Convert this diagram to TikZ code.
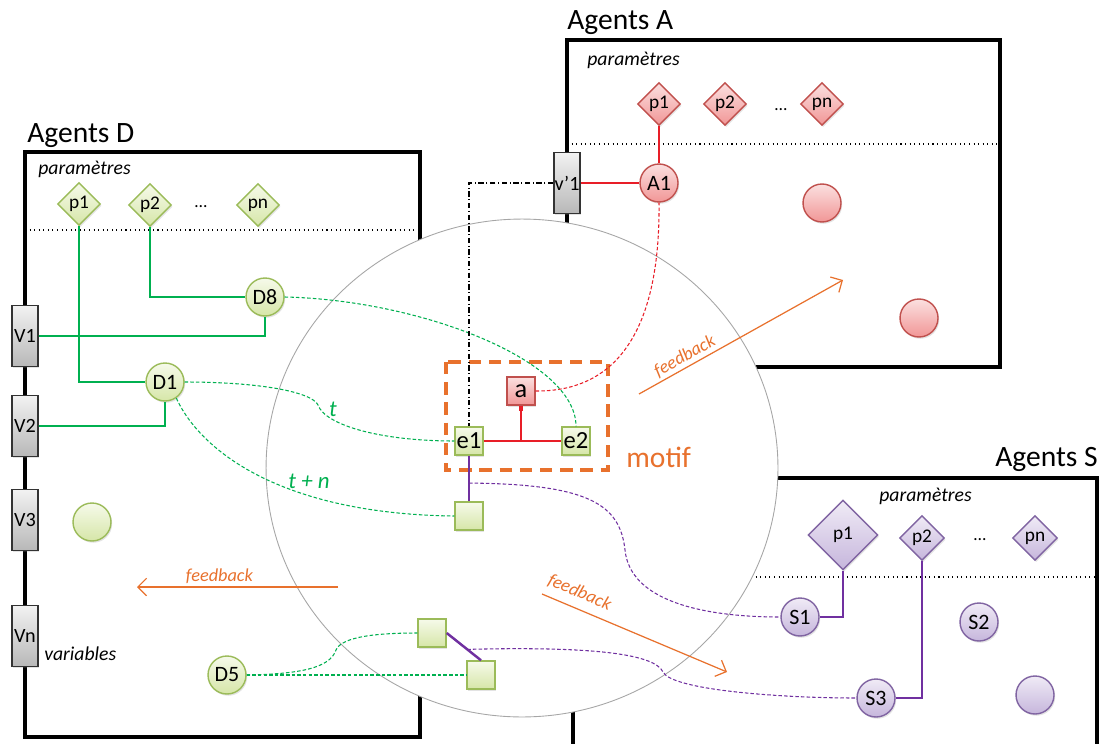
\documentclass[tikz,border=0pt]{standalone}
\usepackage{fontspec}
\setmainfont{Carlito}
\usepackage{tikz}
\usetikzlibrary{shapes.geometric,arrows.meta,calc,shadows}

\definecolor{gtop}{RGB}{246,250,234}
\definecolor{gbot}{RGB}{214,230,168}
\definecolor{gborder}{RGB}{155,187,89}
\definecolor{gline}{RGB}{0,176,80}
\definecolor{rtop}{RGB}{251,224,224}
\definecolor{rbot}{RGB}{241,150,150}
\definecolor{rborder}{RGB}{192,80,77}
\definecolor{rline}{RGB}{232,30,40}
\definecolor{ptop}{RGB}{240,235,246}
\definecolor{pbot}{RGB}{198,182,220}
\definecolor{pborder}{RGB}{128,100,162}
\definecolor{pline}{RGB}{112,48,160}
\definecolor{vtop}{RGB}{242,242,242}
\definecolor{vbot}{RGB}{184,184,184}
\definecolor{orng}{RGB}{232,113,45}

\begin{document}
\begin{tikzpicture}[x=0.02cm,y=-0.02cm,
    frame/.style={line width=1.9pt},
    sep/.style={dotted,line width=0.6pt},
    ttl/.style={font=\fontsize{16.8}{20}\selectfont,inner sep=0pt},
    par/.style={font=\fontsize{11.2}{13}\selectfont\itshape,inner sep=0pt},
    shad/.style={drop shadow={opacity=0.22,shadow xshift=0.7pt,shadow yshift=-1pt}},
    dia/.style={diamond,inner sep=0pt,minimum size=0.86cm,shad,font=\fontsize{11}{13}\selectfont},
    rnd/.style={circle,inner sep=0pt,minimum size=0.76cm,shad,font=\fontsize{12.5}{14}\selectfont},
    sqr/.style={rectangle,inner sep=0pt,minimum size=0.56cm,shad,font=\fontsize{14}{16}\selectfont},
    gfill/.style={draw=gborder,line width=0.8pt,top color=gtop,bottom color=gbot},
    rfill/.style={draw=rborder,line width=0.8pt,top color=rtop,bottom color=rbot},
    pfill/.style={draw=pborder,line width=0.8pt,top color=ptop,bottom color=pbot},
    varbox/.style={rectangle,draw=black!80,line width=0.8pt,top color=vtop,bottom color=vbot,
        minimum width=0.52cm,minimum height=1.22cm,inner sep=0pt,shad,font=\fontsize{11.5}{13}\selectfont},
    dots/.style={font=\fontsize{10}{12}\selectfont},
    glink/.style={gline,line width=0.7pt},
    gdash/.style={gline,line width=0.6pt,dash pattern=on 2pt off 1.2pt},
    plink/.style={pline,line width=0.7pt},
    pdash/.style={pline,line width=0.6pt,dash pattern=on 2pt off 1.2pt},
    rdash/.style={rline,line width=0.6pt,dash pattern=on 2pt off 1.2pt},
    glbl/.style={gline,font=\fontsize{13}{15}\selectfont\itshape},
    fb/.style={orng,line width=0.7pt,-{Straight Barb[length=5pt,width=10pt]}},
    fbl/.style={orng,font=\fontsize{10.4}{12}\selectfont\itshape,inner sep=1.5pt}
]
\useasboundingbox (0,0) rectangle (1104,743);

\draw[frame] (25,152) rectangle (420,737);
\draw[frame] (567,40) rectangle (1000,367);
\draw[frame] (573,770) -- (573,478) -- (1097,478) -- (1097,770);
\draw[sep] (25,230) -- (420,230);
\draw[sep] (567,144) -- (1000,144);
\draw[sep] (573,577) -- (1097,577);

\node[ttl,anchor=base west] at (27,143) {Agents D};
\node[ttl,anchor=base west] at (567,30) {Agents A};
\node[ttl,anchor=base east] at (1098,466) {Agents S};
\node[par,anchor=base west] at (38,174) {paramètres};
\node[par,anchor=base west] at (587,66) {paramètres};
\node[par,anchor=base west] at (879,501) {paramètres};
\node[par,anchor=base west] at (44,660) {variables};

\draw[gray!70,line width=0.5pt,fill=white] (522,468) ellipse [x radius=5.12cm,y radius=4.98cm];

\node[dia,gfill] (pD1) at (79,204) {p1};
\node[dia,gfill] (pD2) at (150,205) {p2};
\node[dots] at (201,207) {…};
\node[dia,gfill] (pDn) at (258,205) {pn};
\node[varbox] (Dv1) at (25,336) {V1};
\node[varbox] (Dv2) at (25,426) {V2};
\node[varbox] (Dv3) at (25,520) {V3};
\node[varbox] (Dvn) at (25,636) {Vn};
\node[rnd,gfill] (D8) at (265,297) {D8};
\node[rnd,gfill] (D1) at (165,382) {D1};
\node[rnd,gfill] (Dx) at (92,522) {};
\node[rnd,gfill] (D5) at (227,675) {D5};

\node[dia,rfill] (pA1) at (659,104) {p1};
\node[dia,rfill] (pA2) at (725,104) {p2};
\node[dots] at (781,110) {…};
\node[dia,rfill] (pAn) at (822,104) {pn};
\node[varbox] (Vpa) at (567,183) {v’1};
\node[rnd,rfill] (A1) at (659,183) {A1};
\node[rnd,rfill] (Ax1) at (822,203) {};
\node[rnd,rfill] (Ax2) at (919,318) {};

\node[dia,pfill,minimum size=1.4cm] (pS1) at (843,535) {p1};
\node[dia,pfill,minimum size=0.9cm] (pS2) at (922,538) {p2};
\node[dots] at (980,540) {…};
\node[dia,pfill,minimum size=0.9cm] (pSn) at (1035,538) {pn};
\node[rnd,pfill] (S1) at (800,617) {S1};
\node[rnd,pfill] (S2) at (979,622) {S2};
\node[rnd,pfill] (S3) at (876,698) {S3};
\node[rnd,pfill] (Sx) at (1035,695) {};

\draw[orng,line width=2pt,dash pattern=on 7pt off 4.5pt] (446,362) rectangle (608,470);
\node[orng,font=\fontsize{16.8}{20}\selectfont,anchor=base west,inner sep=0pt] at (626,467) {motif};

\node[sqr,gfill] (e1) at (469,441) {e1};
\node[sqr,gfill] (e2) at (576,441) {e2};
\node[sqr,rfill,font=\fontsize{15}{17}\selectfont] (ea) at (521,391) {a};
\node[sqr,gfill] (sqT) at (469,516) {};
\node[sqr,gfill] (sqL1) at (432,633) {};
\node[sqr,gfill] (sqL2) at (481,675) {};

\draw[glink] (pD1.south) |- (D1.west);
\draw[glink] (pD2.south) |- (D8.west);
\draw[glink] (Dv1.east) -| (D8.south);
\draw[glink] (Dv2.east) -| (D1.south);
\draw[gdash] (D8.east) .. controls (420,300) and (576,360) .. (e2.north);
\draw[gdash] (D1.east) .. controls (260,382) and (312,392) .. (318,405)
    .. controls (325,425) and (380,441) .. (e1.west);
\draw[gdash] (D1.-55) .. controls (200,450) and (280,514) .. (sqT.west);
\draw[gdash] (D5.east) .. controls (300,674) and (330,668) .. (336,650)
    .. controls (342,636) and (380,633) .. (sqL1.west);
\draw[gdash] (D5.east) -- (sqL2.west);
\node[glbl] at (333,409) {t};
\node[glbl] at (309,481) {t + n};

\draw[rline,line width=0.9pt] (pA1.south) -- (A1.north);
\draw[rline,line width=0.8pt] (Vpa.east) -- (A1.west);
\draw[rdash] (ea.east) .. controls (640,392) and (660,290) .. (A1.south);
\draw[rline,line width=1.6pt] (e1.east) -- (e2.west);
\draw[rline,line width=0.7pt] (ea.south) -- (ea.south |- e1.east);
\draw[rline,line width=2pt] (ea.south) -- ++(0,5);
\draw[line width=0.6pt,dash pattern=on 3pt off 1.5pt on 0.6pt off 1.5pt] (Vpa.west) -| (e1.north);

\draw[pline,line width=1.4pt] (e1.south) -- (sqT.north);
\draw[pline,line width=1.4pt] (sqL1.east) -- (sqL2.north);
\coordinate (pT) at ($(e1.south)!0.6!(sqT.north)$);
\coordinate (pL) at ($(sqL1.east)!0.6!(sqL2.north)$);
\draw[pdash] (pT) .. controls (590,484) and (620,505) .. (625,550)
    .. controls (630,600) and (700,617) .. (S1.west);
\draw[pdash] (pL) .. controls (600,646) and (655,655) .. (663,672)
    .. controls (672,690) and (780,698) .. (S3.west);
\draw[plink] (pS1.south) |- (S1.east);
\draw[plink] (pS2.south) |- (S3.east);

\coordinate (fbA0) at (639,394);
\coordinate (fbA1) at (843,280);
\coordinate (fbS0) at (542,594);
\coordinate (fbS1) at (727,672);
\coordinate (fbD0) at (338,587);
\coordinate (fbD1) at (137,587);
\draw[fb] (fbA0) -- node[fbl,sloped,above,pos=0.25] {feedback} (fbA1);
\draw[fb] (fbS0) -- node[fbl,sloped,above=3pt,pos=0.17] {feedback} (fbS1);
\draw[fb] (fbD0) -- node[fbl,above,pos=0.59] {feedback} (fbD1);
\end{tikzpicture}
\end{document}
